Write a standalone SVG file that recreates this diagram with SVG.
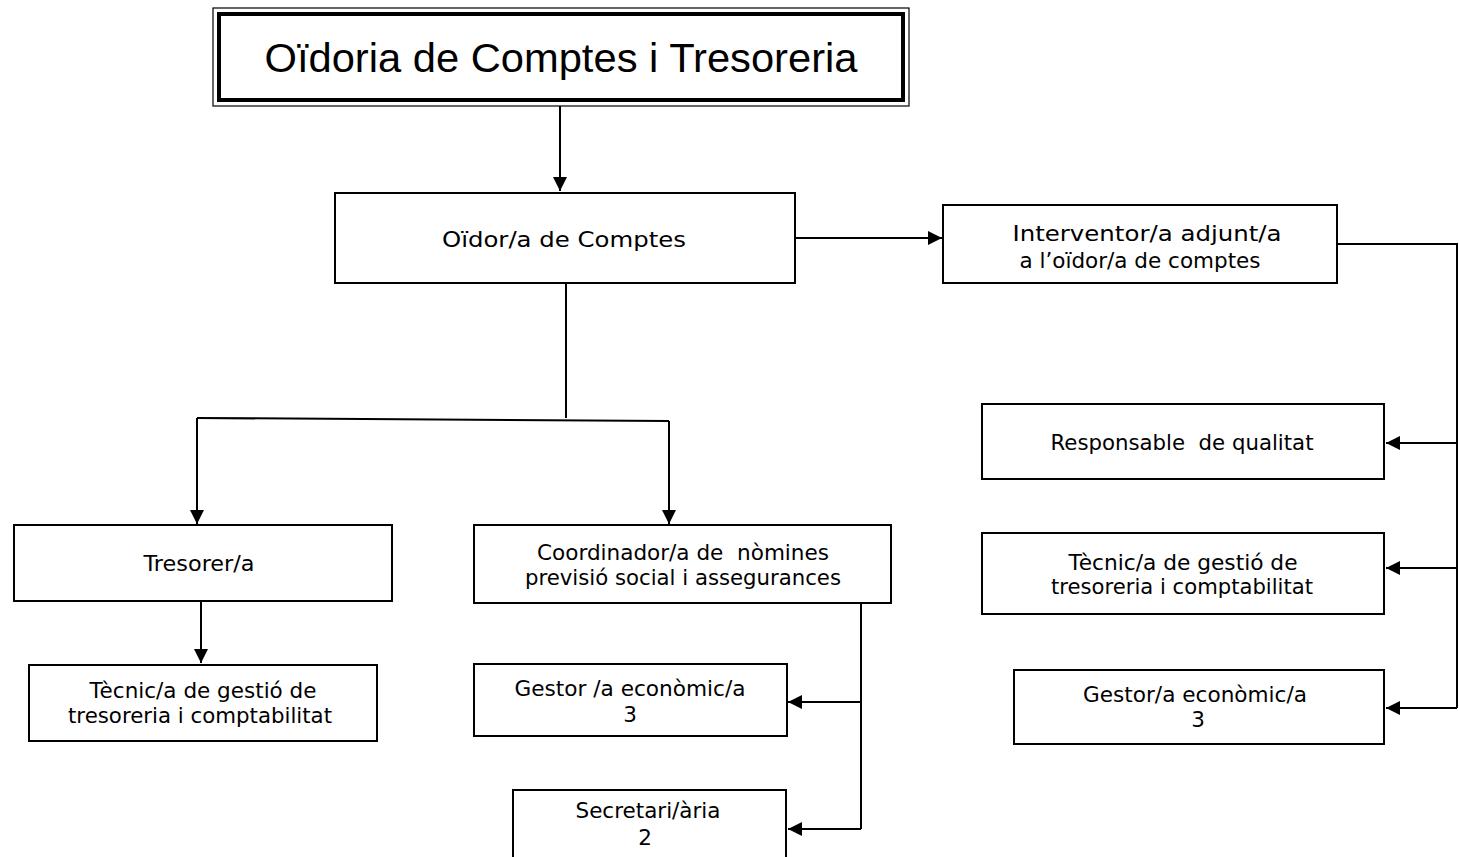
<svg xmlns="http://www.w3.org/2000/svg" width="1459" height="857" viewBox="0 0 1459 857">
<style>
.box{fill:#fff;stroke:#000;stroke-width:2}
.t{font-family:"DejaVu Sans",Verdana,sans-serif;font-size:21.5px;fill:#000;text-anchor:middle}
.title{font-family:"Liberation Sans",Arial,sans-serif;font-size:40px;fill:#000;text-anchor:middle}
.c{fill:none;stroke:#000;stroke-width:2}
</style>
<defs>
<marker id="ah" viewBox="0 0 10 10" refX="10" refY="5" markerWidth="14" markerHeight="14" markerUnits="userSpaceOnUse" orient="auto">
<path d="M0,0 L10,5 L0,10 z" fill="#000"/>
</marker>
</defs>
<rect width="1459" height="857" fill="#fff"/>
<g id="connectors">
<path class="c" d="M560,106 V191" marker-end="url(#ah)"/>
<path class="c" d="M795,238 H942" marker-end="url(#ah)"/>
<path class="c" d="M1337,244 H1457 V708"/>
<path class="c" d="M1457,443 H1386" marker-end="url(#ah)"/>
<path class="c" d="M1457,568 H1386" marker-end="url(#ah)"/>
<path class="c" d="M1457,708 H1386" marker-end="url(#ah)"/>
<path class="c" d="M566,283 V418"/>
<path class="c" d="M197,418 L669,421"/>
<path class="c" d="M197,418 V524" marker-end="url(#ah)"/>
<path class="c" d="M669,421 V524" marker-end="url(#ah)"/>
<path class="c" d="M201,601 V663" marker-end="url(#ah)"/>
<path class="c" d="M861,603 V829"/>
<path class="c" d="M861,702 H788" marker-end="url(#ah)"/>
<path class="c" d="M861,829 H788" marker-end="url(#ah)"/>
</g>
<g id="title">
<rect x="213" y="8" width="696" height="98" fill="#fff" stroke="#000" stroke-width="1.2"/>
<rect x="219" y="14" width="684" height="86" fill="none" stroke="#000" stroke-width="4"/>
<text class="title" x="561" y="72" textLength="593" lengthAdjust="spacingAndGlyphs">Oïdoria de Comptes i Tresoreria</text>
</g>
<g id="oidor">
<rect class="box" x="335" y="193" width="460" height="90"/>
<text class="t" x="564" y="247" textLength="244" lengthAdjust="spacingAndGlyphs">Oïdor/a de Comptes</text>
</g>
<g id="interventor">
<rect class="box" x="943" y="205" width="394" height="78"/>
<text class="t" x="1147" y="241" textLength="269" lengthAdjust="spacingAndGlyphs">Interventor/a adjunt/a</text>
<text class="t" x="1140" y="268" textLength="241" lengthAdjust="spacingAndGlyphs">a l’oïdor/a de comptes</text>
</g>
<g id="responsable">
<rect class="box" x="982" y="404" width="402" height="75"/>
<text class="t" x="1182" y="450" xml:space="preserve" textLength="263" lengthAdjust="spacingAndGlyphs">Responsable  de qualitat</text>
</g>
<g id="tecnic-right">
<rect class="box" x="982" y="533" width="402" height="81"/>
<text class="t" x="1183" y="570" textLength="229" lengthAdjust="spacingAndGlyphs">Tècnic/a de gestió de</text>
<text class="t" x="1182" y="594" textLength="262" lengthAdjust="spacingAndGlyphs">tresoreria i comptabilitat</text>
</g>
<g id="gestor-right">
<rect class="box" x="1014" y="670" width="370" height="74"/>
<text class="t" x="1195" y="702" textLength="224" lengthAdjust="spacingAndGlyphs">Gestor/a econòmic/a</text>
<text class="t" x="1198" y="727">3</text>
</g>
<g id="tresorer">
<rect class="box" x="14" y="525" width="378" height="76"/>
<text class="t" x="199" y="571" textLength="111" lengthAdjust="spacingAndGlyphs">Tresorer/a</text>
</g>
<g id="tecnic-left">
<rect class="box" x="29" y="665" width="348" height="76"/>
<text class="t" x="203" y="698" textLength="227" lengthAdjust="spacingAndGlyphs">Tècnic/a de gestió de</text>
<text class="t" x="200" y="723" textLength="264" lengthAdjust="spacingAndGlyphs">tresoreria i comptabilitat</text>
</g>
<g id="coordinador">
<rect class="box" x="474" y="525" width="417" height="78"/>
<text class="t" x="683" y="560" xml:space="preserve" textLength="292" lengthAdjust="spacingAndGlyphs">Coordinador/a de  nòmines</text>
<text class="t" x="683" y="585" textLength="316" lengthAdjust="spacingAndGlyphs">previsió social i assegurances</text>
</g>
<g id="gestor-mid">
<rect class="box" x="474" y="664" width="313" height="72"/>
<text class="t" x="630" y="696" textLength="231" lengthAdjust="spacingAndGlyphs">Gestor /a econòmic/a</text>
<text class="t" x="630" y="722">3</text>
</g>
<g id="secretari">
<rect class="box" x="513" y="790" width="273" height="70"/>
<text class="t" x="648" y="818" textLength="145" lengthAdjust="spacingAndGlyphs">Secretari/ària</text>
<text class="t" x="645" y="845">2</text>
</g>
</svg>
